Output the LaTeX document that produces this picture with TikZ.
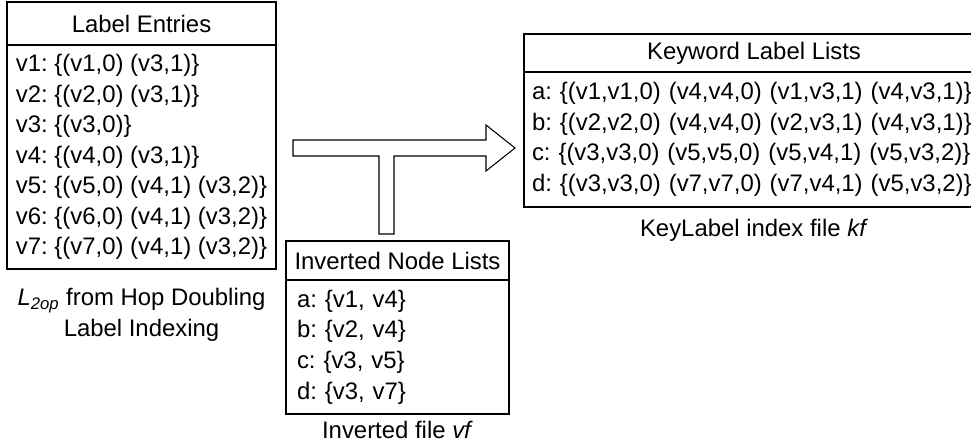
\documentclass[tikz,border=0pt]{standalone}
\usepackage{fontspec}
\setmainfont{Liberation Sans}
\usetikzlibrary{positioning}
\usetikzlibrary{calc}

\tikzset{
  boxhead/.style={draw, outer sep=0pt, inner xsep=2pt, align=center},
  boxbody/.style={draw, outer sep=0pt, inner ysep=0pt, align=left},
  caption/.style={inner sep=0pt, align=center}
}

\begin{document}
\frenchspacing
\begin{tikzpicture}[font=\fontsize{13.6}{17.4}\selectfont, line width=0.7pt]
			\useasboundingbox (0,0) rectangle (19.42,8.96);
			% Label entries
			\node[boxhead, minimum width=5.38cm, minimum height=0.86cm, anchor=north west] (entries) at (0.14,8.92) {Label Entries};
			\node[boxbody, minimum width=5.38cm, minimum height=4.48cm, below=0pt of entries] (entrylist) {v1: \{(v1,0) (v3,1)\}\\v2: \{(v2,0) (v3,1)\}\\v3: \{(v3,0)\}\\v4: \{(v4,0) (v3,1)\}\\v5: \{(v5,0) (v4,1) (v3,2)\}\\v6: \{(v6,0) (v4,1) (v3,2)\}\\v7: \{(v7,0) (v4,1) (v3,2)\}};
			\node[caption, below=0.38cm of entrylist] (entrycap) {\textit{L}\textsubscript{\textit{2op}} from Hop Doubling\\Label Indexing};
			% Inverted node lists
			\node[boxhead, minimum width=4.46cm, minimum height=0.78cm, anchor=north west] (invhead) at (5.72,4.14) {Inverted Node Lists};
			\node[boxbody, text width=4.02cm, inner xsep=0.22cm, minimum height=2.68cm, below=0pt of invhead] (invlist) {a: \{v1, v4\}\\b: \{v2, v4\}\\c: \{v3, v5\}\\d: \{v3, v7\}};
			\node[caption, below=0.14cm of invlist] (invcap) {Inverted file \textit{vf}};
			% Keyword label lists
			\node[boxhead, minimum width=9.2cm, minimum height=0.76cm, anchor=north west] (keyhead) at (10.48,8.28) {Keyword Label Lists};
			\node[boxbody, text width=8.88cm, inner xsep=0.16cm, minimum height=2.70cm, below=0pt of keyhead] (keylist) {a: \{(v1,v1,0) (v4,v4,0) (v1,v3,1) (v4,v3,1)\}\\b: \{(v2,v2,0) (v4,v4,0) (v2,v3,1) (v4,v3,1)\}\\c: \{(v3,v3,0) (v5,v5,0) (v5,v4,1) (v5,v3,2)\}\\d: \{(v3,v3,0) (v7,v7,0) (v7,v4,1) (v5,v3,2)\}};
			\node[caption, below=0.24cm of keylist] (keycap) {KeyLabel index file \textit{kf}};
			% T-shaped block arrow
			\coordinate (tail) at (5.86,6.0);
			\coordinate (tip) at (10.30,6.0);
			\coordinate (foot) at ($(invhead.north)+(-0.22,0.14)$);
			\draw[line width=0.6pt] ($(tail)+(0,0.16)$) -- ($(tip)+(-0.58,0.16)$) -- ($(tip)+(-0.58,0.46)$) -- (tip)
				-- ($(tip)+(-0.58,-0.46)$) -- ($(tip)+(-0.58,-0.16)$) -- ($(foot |- tail)+(0.15,-0.16)$)
				-- ($(foot)+(0.15,0)$) -- ($(foot)+(-0.15,0)$) -- ($(foot |- tail)+(-0.15,-0.16)$)
				-- ($(tail)+(0,-0.16)$) -- cycle;
		\end{tikzpicture}
\end{document}
